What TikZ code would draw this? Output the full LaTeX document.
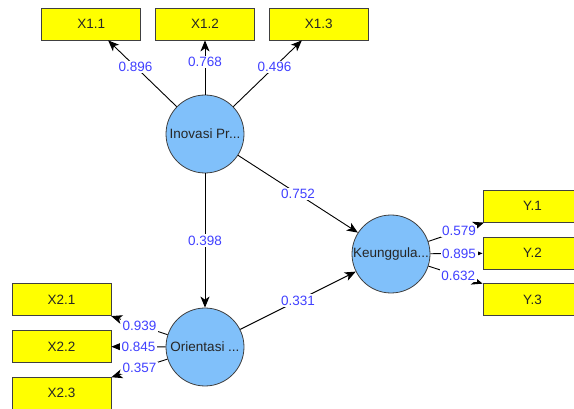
\documentclass[tikz,border=0pt]{standalone}
\usepackage{fontspec}
\setmainfont{Liberation Sans}
\usetikzlibrary{positioning, arrows.meta}
\definecolor{lvblue}{RGB}{128,192,250}
\definecolor{indyellow}{RGB}{255,255,0}
\definecolor{coefblue}{RGB}{64,64,255}

\begin{document}
\begin{tikzpicture}[x=1pt, y=-1pt, node distance=14pt and 14pt, >={Stealth[length=11pt, width=9pt, inset=3pt]},
  latent/.style={circle, draw=black!75, fill=lvblue, line width=0.8pt, minimum size=78pt, inner sep=0pt, text=black!85, font=\fontsize{13.5}{15}\selectfont},
  indicator/.style={rectangle, draw=black!75, fill=indyellow, line width=0.8pt, minimum width=99pt, minimum height=32pt, inner sep=0pt, text=black!85, font=\fontsize{13.5}{15}\selectfont},
  coef/.style={fill=white, inner sep=1.5pt, text=coefblue, font=\fontsize{13.5}{15}\selectfont},
  path/.style={->, line width=0.9pt}]
  \useasboundingbox (0,0) rectangle (574,409);
  % latent variables
  \node[latent] (inov) at (205,134) {Inovasi Pr...};
  \node[latent] (orient) at (205,347) {Orientasi ...};
  \node[latent] (keung) at (391,254) {Keunggula...};
  % indicators
  \node[indicator] (x12) at (205,24) {X1.2};
  \node[indicator] (x11) [left=of x12] {X1.1};
  \node[indicator] (x13) [right=of x12] {X1.3};
  \node[indicator] (x22) at (61.5,346.5) {X2.2};
  \node[indicator] (x21) [above=of x22] {X2.1};
  \node[indicator] (x23) [below=of x22] {X2.3};
  \node[indicator] (y2) at (532.5,253) {Y.2};
  \node[indicator] (y1) [above=of y2] {Y.1};
  \node[indicator] (y3) [below=of y2] {Y.3};
  % outer loadings
  \draw[path] (inov) -- node[coef, pos=0.6] {0.896} (x11);
  \draw[path] (inov) -- node[coef, pos=0.6] {0.768} (x12);
  \draw[path] (inov) -- node[coef, pos=0.6] {0.496} (x13);
  \draw[path] (orient) -- node[coef, pos=0.5] {0.939} (x21);
  \draw[path] (orient) -- node[coef, pos=0.5] {0.845} (x22);
  \draw[path] (orient) -- node[coef, pos=0.5] {0.357} (x23);
  \draw[path] (keung) -- node[coef, pos=0.55] {0.579} (y1);
  \draw[path] (keung) -- node[coef, pos=0.55] {0.895} (y2);
  \draw[path] (keung) -- node[coef, pos=0.55] {0.632} (y3);
  % inner model
  \draw[path] (inov) -- node[coef] {0.752} (keung);
  \draw[path] (inov) -- node[coef] {0.398} (orient);
  \draw[path] (orient) -- node[coef] {0.331} (keung);
\end{tikzpicture}
\end{document}
